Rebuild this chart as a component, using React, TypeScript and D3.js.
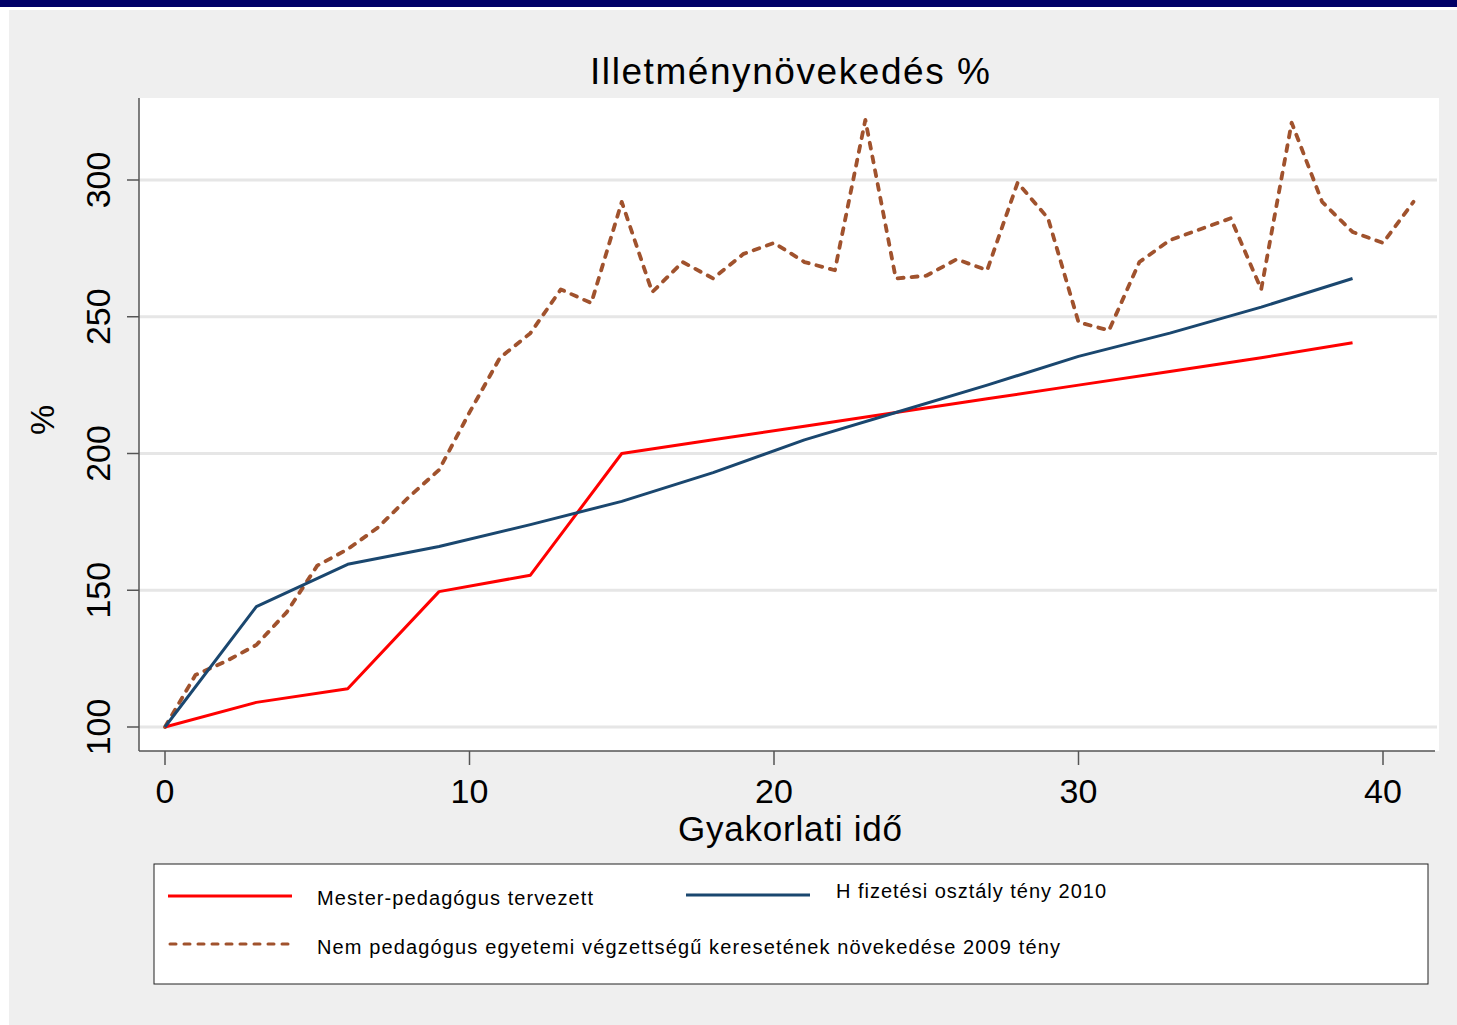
import { scaleLinear, line } from "d3"

// experience years (x axis)
const years = [0, 3, 6, 9, 12, 15, 18, 21, 24, 27, 30, 33, 36, 39]
// Mester-pedagógus tervezett
const mesterValues = [100, 109, 114, 149.5, 155.5, 200, 205, 210, 215, 220, 225, 230, 235, 240.5]
// H fizetési osztály tény 2010
const hValues = [100, 144, 159.5, 166, 174, 182.5, 193, 205, 215, 225, 235.5, 244, 253.5, 264]
// Nem pedagógus ... 2009 tény, yearly
const nemYears = [
  0, 1, 2, 3, 4, 5, 6, 7, 8, 9, 10, 11, 12, 13, 14, 15, 16, 17, 18, 19, 20,
  21, 22, 23, 24, 25, 26, 27, 28, 29, 30, 31, 32, 33, 34, 35, 36, 37, 38, 39, 40, 41
]
const nemValues = [
  100, 119, 124, 130, 142, 159, 165, 173, 184, 194, 215, 235, 244, 260, 255, 292, 259, 270, 264, 273, 277,
  270, 267, 322, 264, 265, 271, 267, 299, 286, 248, 245, 270, 278, 282, 286, 260, 321, 292, 281, 277, 292
]

const xTicks = [0, 10, 20, 30, 40]
const yTicks = [100, 150, 200, 250, 300]

const legendItems = [
  { label: "Mester-pedagógus tervezett", color: "#ff0000", dash: null },
  { label: "H fizetési osztály tény 2010", color: "#1a476f", dash: null },
  { label: "Nem pedagógus egyetemi végzettségű keresetének növekedése 2009 tény", color: "#a0522d", dash: "6 8" }
]

const font = "'Liberation Sans', Arial, Helvetica, sans-serif"

export default function App() {
  const W = 1457
  const H = 1025
  const plot = { left: 139, right: 1439, top: 98, bottom: 751 }

  const x = scaleLinear().domain([0, 40]).range([165, 1383])
  const y = scaleLinear().domain([100, 300]).range([727, 180])

  const path = line<[number, number]>()
    .x(d => x(d[0]))
    .y(d => y(d[1]))

  const mester = path(years.map((v, i) => [v, mesterValues[i]]))
  const hPath = path(years.map((v, i) => [v, hValues[i]]))
  const nem = path(nemYears.map((v, i) => [v, nemValues[i]]))

  // legend positions
  const lg = { left: 154, top: 864, width: 1274, height: 120 }
  const legendPos = [
    { lx: 168, ly: 896, tx: 317, ty: 905, len: 276 },
    { lx: 686, ly: 895, tx: 836, ty: 898, len: 270 },
    { lx: 168, ly: 944, tx: 317, ty: 954, len: 743 }
  ]

  return (
    <svg width={W} height={H} style={{ position: "absolute", left: 0, top: 0 }} fontFamily={font}>
      <rect x={0} y={0} width={W} height={H} fill="#ffffff" />
      <rect x={0} y={0} width={W} height={7} fill="#000066" />
      <rect x={9} y={10} width={W - 9} height={H - 10} fill="#efefef" />

      {/* plot region */}
      <rect x={plot.left} y={plot.top} width={plot.right - plot.left} height={plot.bottom - plot.top} fill="#ffffff" />

      {yTicks.map(t => (
        <line key={`g${t}`} x1={plot.left} x2={plot.right - 2} y1={y(t)} y2={y(t)} stroke="#e6e6e6" strokeWidth={3} />
      ))}

      <path
        d={nem ?? ""}
        fill="none"
        stroke="#a0522d"
        strokeWidth={3.8}
        strokeDasharray="6 8"
        strokeLinecap="round"
        strokeLinejoin="round"
      />
      <path d={mester ?? ""} fill="none" stroke="#ff0000" strokeWidth={3} strokeLinejoin="round" />
      <path d={hPath ?? ""} fill="none" stroke="#1a476f" strokeWidth={3} strokeLinejoin="round" />

      {/* axes */}
      <line x1={plot.left} x2={plot.left} y1={plot.top} y2={plot.bottom} stroke="#555" strokeWidth={1.5} />
      <line x1={plot.left} x2={plot.right - 4} y1={plot.bottom} y2={plot.bottom} stroke="#555" strokeWidth={1.5} />

      {yTicks.map(t => (
        <g key={`y${t}`}>
          <line x1={plot.left - 12} x2={plot.left} y1={y(t)} y2={y(t)} stroke="#555" strokeWidth={1.5} />
          <text
            transform={`translate(110, ${y(t)}) rotate(-90)`}
            textAnchor="middle"
            fontSize={34}
            fill="#000"
          >
            {t}
          </text>
        </g>
      ))}

      {xTicks.map(t => (
        <g key={`x${t}`}>
          <line x1={x(t)} x2={x(t)} y1={plot.bottom} y2={plot.bottom + 14} stroke="#555" strokeWidth={1.5} />
          <text x={x(t)} y={803} textAnchor="middle" fontSize={34} fill="#000">{t}</text>
        </g>
      ))}

      <text x={590} y={84} fontSize={37} fill="#000" textLength={400} lengthAdjust="spacing">
        Illetménynövekedés %
      </text>
      <text x={678} y={841} fontSize={35} fill="#000" textLength={224} lengthAdjust="spacing">
        Gyakorlati idő
      </text>
      <text transform={`translate(54, 420) rotate(-90)`} textAnchor="middle" fontSize={34} fill="#000">%</text>

      {/* legend */}
      <rect x={lg.left} y={lg.top} width={lg.width} height={lg.height} fill="#ffffff" stroke="#222" strokeWidth={1} />
      {legendItems.map((item, i) => {
        const p = legendPos[i]
        return (
          <g key={item.label}>
            <line
              x1={p.lx + (item.dash ? 2 : 0)}
              x2={p.lx + 124}
              y1={p.ly}
              y2={p.ly}
              stroke={item.color}
              strokeWidth={3}
              strokeDasharray={item.dash ?? undefined}
              strokeLinecap={item.dash ? "round" : "butt"}
            />
            <text x={p.tx} y={p.ty} fontSize={20} fill="#000" textLength={p.len} lengthAdjust="spacing">
              {item.label}
            </text>
          </g>
        )
      })}
    </svg>
  )
}
